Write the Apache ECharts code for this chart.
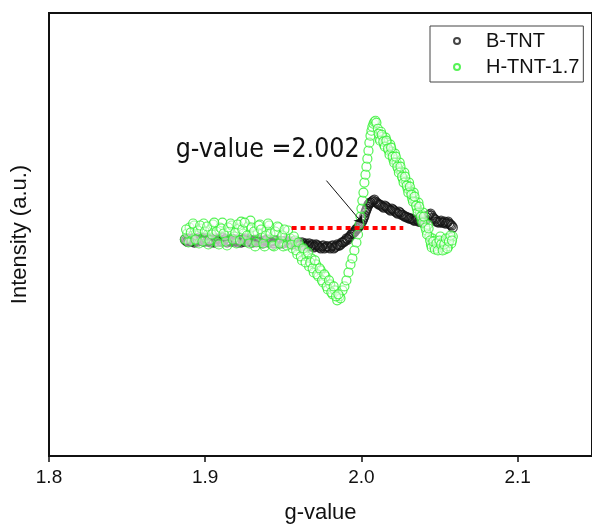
<!DOCTYPE html>
<html>
<head>
<meta charset="utf-8">
<script src="https://cdn.jsdelivr.net/npm/echarts@6/dist/echarts.min.js"></script>
<style>
  html, body { margin: 0; padding: 0; background: #fff; }
  #chart { width: 592px; height: 529px; }
</style>
</head>
<body>
<div id="chart"></div>
<script>
// EPR spectra: [g-value, intensity (a.u.)]
const seriesNames = ['B-TNT', 'H-TNT-1.7'];

const bTnt = [
  [1.887,-5],[1.8885,-7],[1.890,-4],[1.8915,-6],[1.893,-8],[1.8945,-5],[1.896,-3],[1.8975,-6],
  [1.899,-7],[1.9005,-4],[1.902,-6],[1.9035,-8],[1.905,-5],[1.9065,-4],[1.908,-7],[1.9095,-6],
  [1.911,-3],[1.9125,-5],[1.914,-8],[1.9155,-6],[1.917,-4],[1.9185,-7],[1.920,-5],[1.9215,-6],
  [1.923,-8],[1.9245,-5],[1.926,-4],[1.9275,-7],[1.929,-6],[1.9305,-8],[1.932,-5],[1.9335,-7],
  [1.935,-6],[1.9365,-9],[1.938,-6],[1.9395,-5],[1.941,-8],[1.9425,-7],[1.944,-9],[1.9455,-6],
  [1.947,-8],[1.9485,-7],[1.950,-9],[1.9515,-6],[1.953,-8],[1.9545,-7],[1.956,-10],[1.9575,-8],
  [1.959,-9],[1.9605,-11],[1.962,-8],[1.9635,-10],[1.965,-12],[1.9665,-9],[1.968,-11],[1.9695,-13],
  [1.971,-10],[1.9725,-12],[1.974,-14],[1.9755,-11],[1.977,-13],[1.9785,-12],[1.980,-14],[1.9815,-11],
  [1.983,-13],[1.9845,-10],[1.986,-11],[1.9875,-8],[1.989,-7],[1.9905,-4],[1.992,-3],[1.9935,0],
  [1.995,2],[1.9965,5],[1.998,7],[1.9995,11],[2.001,15],[2.002,19],[2.003,24],[2.004,28],
  [2.005,31],[2.006,32],[2.0075,34],[2.009,33],[2.0105,31],[2.012,30],[2.0135,28],[2.015,29],
  [2.0165,27],[2.018,25],[2.0195,26],[2.021,24],[2.0225,22],[2.024,23],[2.0255,20],[2.027,19],
  [2.0285,18],[2.030,17],[2.0315,16],[2.033,15],[2.0345,14],[2.036,15],[2.0375,13],[2.039,12],
  [2.0405,14],[2.042,17],[2.0435,20],[2.045,19],[2.0465,16],[2.048,13],[2.0495,12],[2.051,14],
  [2.0525,12],[2.054,11],[2.0555,13],[2.057,10],[2.0585,7],
  // intermediate field positions
  [1.88775,-6],[1.88925,-5],[1.89075,-7],[1.89225,-4],[1.89375,-6],[1.89525,-7],[1.89675,-5],[1.89825,-4],
  [1.89975,-6],[1.90125,-7],[1.90275,-5],[1.90425,-6],[1.90575,-8],[1.90725,-5],[1.90875,-4],[1.91025,-7],
  [1.91175,-6],[1.91325,-4],[1.91475,-6],[1.91625,-7],[1.91775,-5],[1.91925,-6],[1.92075,-8],[1.92225,-6],
  [1.92375,-5],[1.92525,-7],[1.92675,-6],[1.92825,-5],[1.92975,-8],[1.93125,-6],[1.93275,-7],[1.93425,-5],
  [1.93575,-8],[1.93725,-7],[1.93875,-6],[1.94025,-8],[1.94175,-6],[1.94325,-9],[1.94475,-7],[1.94625,-6],
  [1.94775,-9],[1.94925,-7],[1.95075,-8],[1.95225,-7],[1.95375,-9],[1.95525,-8],[1.95675,-9],[1.95825,-10],
  [1.95975,-8],[1.96125,-10],[1.96275,-11],[1.96425,-9],[1.96575,-11],[1.96725,-12],[1.96875,-10],[1.97025,-12],
  [1.97175,-11],[1.97325,-13],[1.97475,-12],[1.97625,-14],[1.97775,-12],[1.97925,-13],[1.98075,-12],[1.98225,-14],
  [1.98375,-12],[1.98525,-11],[1.98675,-10],[1.98825,-8],[1.98975,-6],[1.99125,-5],[1.99275,-2],[1.99425,1],
  [1.99575,3],[1.99725,6],[1.99875,9],[2.0005,13],[2.0015,17],[2.0025,22],[2.0035,26],[2.0045,30],
  [2.0055,32],[2.0068,33],[2.0083,35],[2.0098,32],[2.01125,30],[2.01275,29],[2.01425,27],[2.01575,28],
  [2.01725,26],[2.01875,24],[2.02025,25],[2.02175,23],[2.02325,21],[2.02475,22],[2.02625,20],[2.02775,18],
  [2.02925,17],[2.03075,16],[2.03225,16],[2.03375,14],[2.03525,15],[2.03675,13],[2.03825,14],[2.03975,13],
  [2.04125,15],[2.04275,19],[2.04425,21],[2.04575,17],[2.04725,15],[2.04875,13],[2.05025,13],[2.05175,12],
  [2.05325,13],[2.05475,12],[2.05625,11],[2.05775,9]
];

const hTnt = [
  [1.887,-5],[1.8885,1],[1.890,7],[1.8915,-6],[1.893,9],[1.8945,-1],[1.896,-9],[1.8975,6],
  [1.899,11],[1.9005,-3],[1.902,-10],[1.9035,5],[1.905,10],[1.9065,0],[1.908,-8],[1.9095,7],
  [1.911,12],[1.9125,-1],[1.914,-11],[1.9155,3],[1.917,9],[1.9185,-2],[1.920,-9],[1.9215,6],
  [1.923,13],[1.9245,1],[1.926,-7],[1.9275,8],[1.929,14],[1.9305,0],[1.932,-12],[1.9335,2],
  [1.935,10],[1.9365,-3],[1.938,-12],[1.9395,4],[1.941,9],[1.9425,-5],[1.944,-12],[1.9455,0],
  [1.947,7],[1.9485,-7],[1.950,-12],[1.9515,-2],[1.953,4],
  [1.9545,-4],[1.956,-14],[1.9575,-6],[1.959,-20],[1.9605,-12],[1.962,-26],[1.9635,-16],[1.965,-22],
  [1.9665,-32],[1.968,-24],[1.9695,-38],[1.971,-30],[1.9725,-42],[1.974,-36],[1.9755,-48],[1.977,-42],
  [1.9785,-55],[1.980,-50],[1.9815,-60],[1.983,-56],[1.9845,-66],[1.986,-62],
  [1.9866,-64],[1.9879,-56],[1.9891,-52],[1.9904,-46],[1.9917,-38],[1.993,-30],[1.9942,-24],[1.9955,-16],
  [1.9968,-8],[1.9978,0],[1.9987,10],[1.9994,18],[2.000,26],[2.0006,34],[2.0013,42],[2.0019,52],
  [2.0026,60],[2.0032,68],[2.0038,76],[2.0045,84],[2.0051,92],[2.0058,99],[2.0064,104],[2.007,108],
  [2.0077,111],[2.0083,113],[2.009,114],[2.0096,112],
  [2.0105,106],[2.0115,96],[2.0125,103],[2.0135,98],[2.0145,90],[2.0155,97],[2.0165,92],[2.0175,84],
  [2.0185,90],[2.0195,83],[2.0205,75],[2.0215,81],[2.0225,72],[2.0235,66],[2.0245,72],[2.0255,63],
  [2.0265,56],[2.0275,62],[2.0285,53],[2.0295,46],[2.0305,52],[2.0315,43],[2.0325,36],[2.0335,42],
  [2.0345,33],[2.0355,26],[2.0365,32],[2.0375,22],[2.0385,15],[2.0395,22],[2.0405,12],[2.0415,4],
  [2.0425,10],[2.0435,-2],[2.0445,-10],[2.0455,-4],[2.0465,-12],[2.0475,-6],[2.0485,-14],[2.0495,-9],
  [2.0505,-2],[2.0515,-13],[2.0525,-7],[2.0535,-15],[2.0545,-5],[2.0555,-12],[2.0565,-3],[2.0575,-9],
  [2.0585,-2],
  // intermediate field positions
  [1.88775,5],[1.88925,-8],[1.89075,2],[1.89225,11],[1.89375,-5],[1.89525,4],[1.89675,9],[1.89825,-7],
  [1.89975,3],[1.90125,8],[1.90275,-6],[1.90425,0],[1.90575,12],[1.90725,3],[1.90875,-10],[1.91025,6],
  [1.91175,1],[1.91325,-7],[1.91475,7],[1.91625,11],[1.91775,-5],[1.91925,2],[1.92075,10],[1.92225,-6],
  [1.92375,5],[1.92525,12],[1.92675,-1],[1.92825,-9],[1.92975,7],[1.93125,3],[1.93275,-8],[1.93425,9],
  [1.93575,5],[1.93725,-9],[1.93875,-1],[1.94025,11],[1.94175,1],[1.94325,-11],[1.94475,3],[1.94625,8],
  [1.94775,-9],[1.94925,-1],[1.95075,5],[1.95225,-11],
  [1.95525,-10],[1.95675,-2],[1.95825,-16],[1.95975,-8],[1.96125,-22],[1.96275,-14],[1.96425,-28],[1.96575,-18],
  [1.96725,-28],[1.96875,-34],[1.97025,-26],[1.97175,-40],[1.97325,-34],[1.97475,-46],[1.97625,-40],[1.97775,-52],
  [1.97925,-46],[1.98075,-58],[1.98225,-52],[1.98375,-62],[1.98525,-60],
  [2.011,101],[2.012,94],[2.013,100],[2.014,93],[2.015,88],[2.016,94],[2.017,86],[2.018,80],
  [2.019,87],[2.020,78],[2.021,72],[2.022,78],[2.023,68],[2.024,62],[2.025,68],[2.026,58],
  [2.027,52],[2.028,58],[2.029,49],[2.030,42],[2.031,48],[2.032,40],[2.033,33],[2.034,38],
  [2.035,29],[2.036,22],[2.037,28],[2.038,18],[2.039,12],[2.040,18],[2.041,7],[2.042,0],
  [2.043,6],[2.044,-6],[2.045,-13],[2.046,-7],[2.047,-15],[2.048,-9],[2.049,-16],[2.050,-6],
  [2.051,-10],[2.052,-16],[2.053,-10],[2.054,-4],[2.055,-14],[2.056,-7],[2.057,-1],[2.058,-6]
];

// Baseline guide, arrow and note (data coordinates)
const baseGuide = [[1.9553, 7], [2.0268, 7]];
const arrowPath = [[1.9776, 54], [2.0008, 11]];
const noteText = 'g-value =2.002';
const noteAnchor = [1.8811, 85];

const xTickLabels = ['1.8', '1.9', '2.0', '2.1'];

const AX = '#111';
const SANS = '"Liberation Sans", Arial, sans-serif';

const chart = echarts.init(document.getElementById('chart'), null, { renderer: 'canvas' });

const option = {
  animation: false,
  backgroundColor: '#fff',
  grid: {
    left: 49, top: 13, width: 544, height: 444,
    show: true, borderColor: AX, borderWidth: 2, backgroundColor: 'transparent'
  },
  legend: {
    data: seriesNames,
    orient: 'vertical',
    left: 430, top: 26,
    itemWidth: 6, itemHeight: 6, itemGap: 6,
    padding: [5, 4, 5, 23],
    borderColor: '#444', borderWidth: 1,
    textStyle: { fontFamily: SANS, fontSize: 20, color: AX, padding: [0, 0, 0, 21] }
  },
  xAxis: {
    type: 'value',
    min: 1.8, max: 2.1476, interval: 0.1,
    name: 'g-value', nameLocation: 'middle', nameGap: 46,
    nameTextStyle: { fontFamily: SANS, fontSize: 22, color: AX },
    axisLine: { show: true, onZero: false, lineStyle: { color: AX, width: 2 } },
    axisTick: { show: true, inside: false, length: 6, lineStyle: { color: AX, width: 1.5 } },
    axisLabel: {
      margin: 12, fontFamily: SANS, fontSize: 19, color: AX, showMaxLabel: false,
      formatter: v => { const s = v.toFixed(1); return (Math.abs(v * 10 - Math.round(v * 10)) < 1e-6 && xTickLabels.includes(s)) ? s : ''; }
    },
    splitLine: { show: false }
  },
  yAxis: {
    type: 'value',
    min: -222, max: 222,
    name: 'Intensity (a.u.)', nameLocation: 'middle', nameGap: 18,
    nameTextStyle: { fontFamily: SANS, fontSize: 22, color: AX },
    axisLine: { show: true, onZero: false, lineStyle: { color: AX, width: 2 } },
    axisTick: { show: false },
    axisLabel: { show: false },
    splitLine: { show: false }
  },
  series: [
    {
      name: seriesNames[0], type: 'scatter', data: bTnt,
      symbol: 'circle', symbolSize: 9, z: 2,
      itemStyle: { color: 'rgba(0,0,0,0)', borderColor: '#151515', borderWidth: 1.3 },
      emphasis: { disabled: true }
    },
    {
      name: seriesNames[1], type: 'scatter', data: hTnt,
      symbol: 'circle', symbolSize: 9, z: 3,
      itemStyle: { color: 'rgba(255,255,255,0.55)', borderColor: '#2cf02c', borderWidth: 1.2 },
      emphasis: { disabled: true }
    },
    {
      name: 'guides', type: 'line', data: [], z: 5,
      markLine: {
        silent: true, animation: false,
        label: { show: false },
        symbol: ['none', 'arrow'], symbolSize: 8,
        data: [
          [
            { coord: baseGuide[0], symbol: 'none', lineStyle: { color: '#ff0000', width: 4, type: [5, 4], cap: 'butt' } },
            { coord: baseGuide[1], symbol: 'none' }
          ],
          [
            { coord: arrowPath[0], symbol: 'none', lineStyle: { color: AX, width: 1, type: 'solid' } },
            { coord: arrowPath[1], symbol: 'arrow', symbolSize: 8 }
          ]
        ]
      }
    }
  ]
};

chart.setOption(option);

const notePos = chart.convertToPixel({ gridIndex: 0 }, noteAnchor);
chart.setOption({
  graphic: [{
    type: 'text', x: notePos[0], y: notePos[1], z: 10,
    style: {
      text: noteText, fill: AX,
      font: '26.5px "DejaVu Sans Condensed", "DejaVu Sans", sans-serif',
      verticalAlign: 'middle'
    }
  }]
});
</script>
</body>
</html>
